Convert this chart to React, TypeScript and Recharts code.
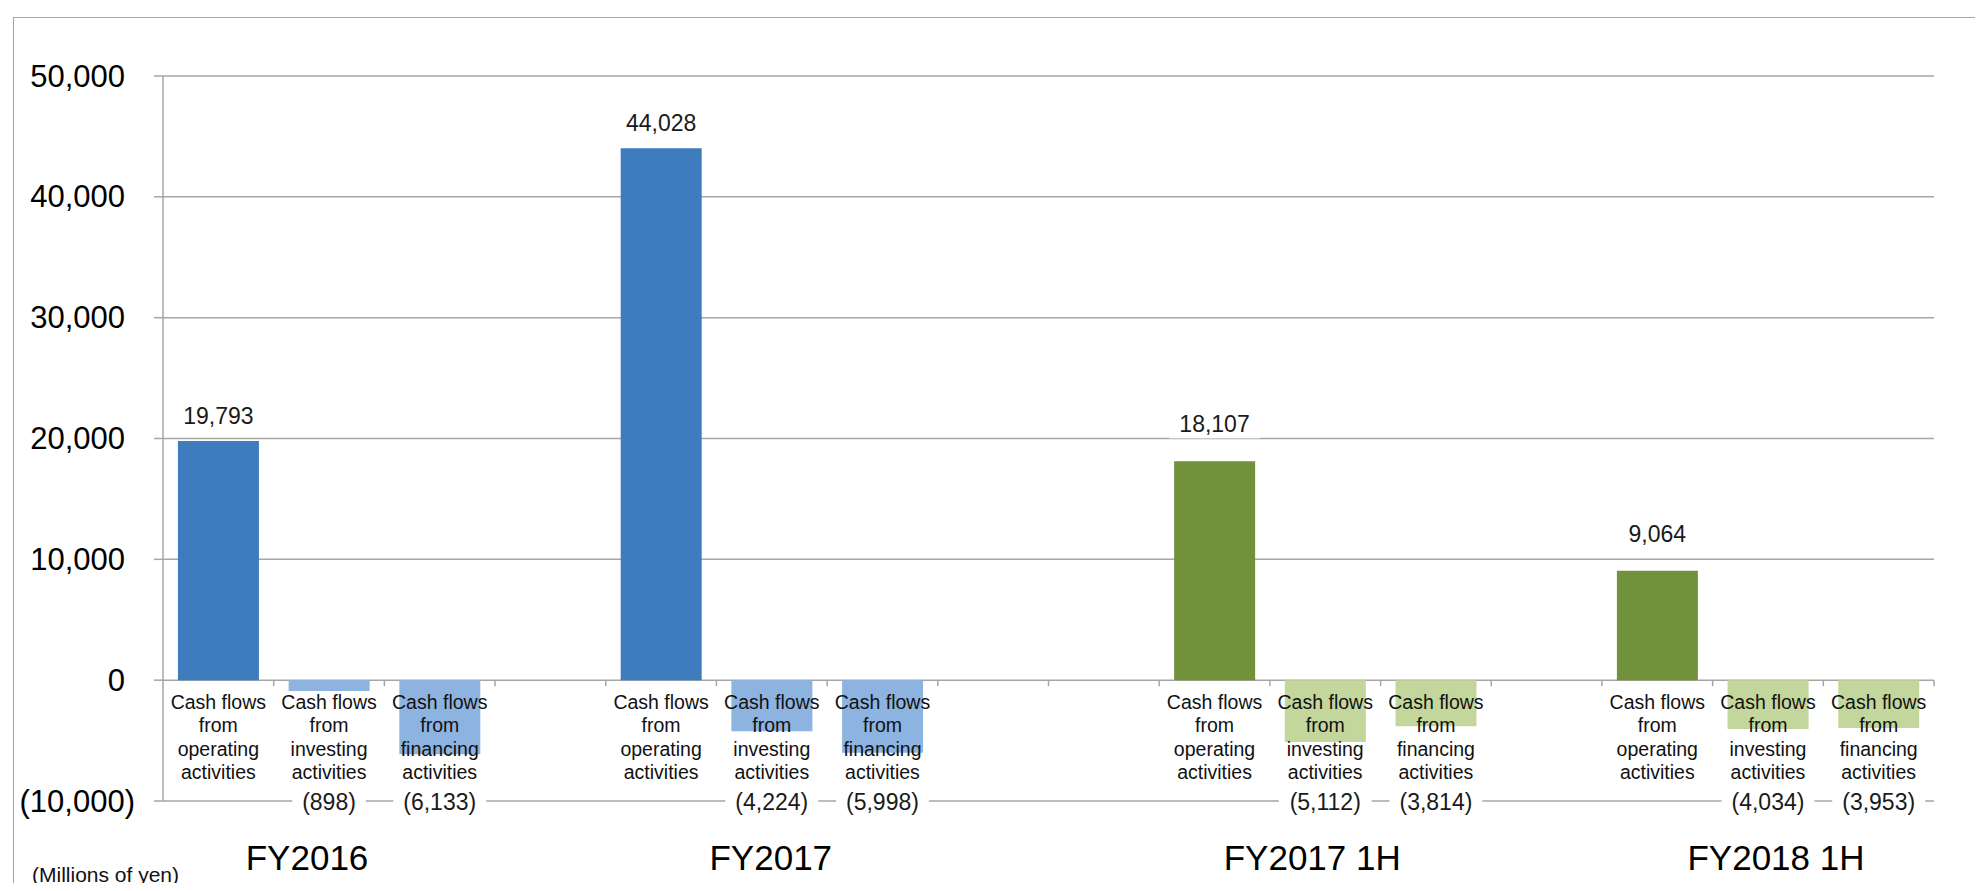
import React from 'react';
import {
  ComposedChart,
  Bar,
  Cell,
  XAxis,
  YAxis,
  CartesianGrid,
  ReferenceDot
} from 'recharts';

const periods = ['FY2016', 'FY2017', 'FY2017 1H', 'FY2018 1H'];
const activityLabels = [
  ['Cash flows', 'from', 'operating', 'activities'],
  ['Cash flows', 'from', 'investing', 'activities'],
  ['Cash flows', 'from', 'financing', 'activities']
];
const operating = [19793, 44028, 18107, 9064];
const investing = [-898, -4224, -5112, -4034];
const financing = [-6133, -5998, -3814, -3953];
const yTicks = [-10000, 0, 10000, 20000, 30000, 40000, 50000];

// layout of the 16 slots on the category axis (empty slots make the gaps)
const SLOT_COUNT = 16;
const periodStart = [0, 4, 9, 13];
const periodLabelDx = [-22, -1, -13, 8];
const valueLabelLift = [25, 25, 37, 37];

const CHART_W = 1967;
const CHART_H = 875;
const MARGIN = { top: 68, right: 41, bottom: 82, left: 0 };
const Y_AXIS_W = 155;
const BAND = (CHART_W - MARGIN.left - MARGIN.right - Y_AXIS_W) / SLOT_COUNT;

const DARK = ['#3f7cbd', '#3f7cbd', '#71913a', '#71913a'];
const LIGHT = ['#8db3e0', '#8db3e0', '#c3d69b', '#c3d69b'];
const GRID = '#a6a6a6';
const FONT = '"Liberation Sans", Arial, sans-serif';

type Row = { slot: string; value?: number; period?: number; kind?: number };

const rows: Row[] = Array.from({ length: SLOT_COUNT }, (_, i) => ({ slot: `s${i}` }));
[operating, investing, financing].forEach((series, k) => {
  series.forEach((v, p) => {
    const r = rows[periodStart[p] + k];
    r.value = v;
    r.period = p;
    r.kind = k;
  });
});
const filled = rows.filter(r => r.value !== undefined);

const fmt = (v: number) =>
  v < 0 ? `(${Math.abs(v).toLocaleString('en-US')})` : v.toLocaleString('en-US');

const textWidth = (s: string, size: number) =>
  [...s].reduce((w, c) => w + (c === ',' ? 0.278 : c === '(' || c === ')' ? 0.333 : 0.556), 0) * size;

const center = (p: any) => {
  const vb = p.viewBox || {};
  return { cx: (vb.x || 0) + (vb.width || 0) / 2, cy: (vb.y || 0) + (vb.height || 0) / 2 };
};

const ValueTag = ({ cx, cy, text }: { cx: number; cy: number; text: string }) => {
  const w = textWidth(text, 23) + 20;
  return (
    <g>
      <rect x={cx - w / 2} y={cy - 14} width={w} height={28} fill="#fff" />
      <text x={cx} y={cy} textAnchor="middle" dominantBaseline="central" fontSize={23} fill="#1a1a1a">
        {text}
      </text>
    </g>
  );
};

const YTick = (props: any) => {
  const { x, y, payload } = props;
  const v = Number(payload.value);
  return (
    <text
      x={x + (v < 0 ? 0 : -10)}
      y={y}
      textAnchor="end"
      dominantBaseline="central"
      fontSize={31}
      fill="#000"
    >
      {fmt(v)}
    </text>
  );
};

const App: React.FC = () => {
  return (
    <div style={{ position: 'relative', width: CHART_W, height: CHART_H, fontFamily: FONT }}>
      <div
        style={{
          position: 'absolute',
          left: 5,
          top: 9,
          width: 1970,
          height: 866,
          borderLeft: `1.5px solid ${GRID}`,
          borderTop: `1.5px solid ${GRID}`,
          boxSizing: 'border-box'
        }}
      />
      <ComposedChart
        width={CHART_W}
        height={CHART_H}
        data={rows}
        margin={MARGIN}
        barCategoryGap="13.5%"
        style={{ fontFamily: FONT }}
      >
        <CartesianGrid vertical={false} stroke={GRID} strokeWidth={1.5} />
        <XAxis dataKey="slot" hide />
        <YAxis
          width={Y_AXIS_W}
          domain={[-10000, 50000]}
          ticks={yTicks}
          interval={0}
          axisLine={{ stroke: GRID, strokeWidth: 1.5 }}
          tickLine={{ stroke: GRID, strokeWidth: 1.5 }}
          tickSize={9}
          tickMargin={19}
          tick={(p: any) => <YTick {...p} />}
        />

        <Bar dataKey="value" isAnimationActive={false}>
          {rows.map((r, i) => (
            <Cell
              key={i}
              fill={r.period === undefined ? 'none' : r.kind === 0 ? DARK[r.period] : LIGHT[r.period]}
            />
          ))}
        </Bar>

        {/* category ticks on the right edge of every slot, hanging below zero */}
        {rows.map(r => (
          <ReferenceDot
            key={`b${r.slot}`}
            x={r.slot}
            y={0}
            ifOverflow="visible"
            shape={(p: any) => (
              <line
                x1={p.cx + BAND / 2}
                y1={p.cy}
                x2={p.cx + BAND / 2}
                y2={p.cy + 6}
                stroke={GRID}
                strokeWidth={1.5}
              />
            )}
          />
        ))}

        {/* activity names under the zero line */}
        {filled.map(r => (
          <ReferenceDot
            key={`c${r.slot}`}
            x={r.slot}
            y={0}
            r={0}
            fillOpacity={0}
            strokeOpacity={0}
            ifOverflow="visible"
            label={(p: any) => {
              const { cx, cy } = center(p);
              return (
                <text textAnchor="middle" fontSize={19.5} fill="#111">
                  {activityLabels[r.kind as number].map((line, i) => (
                    <tspan key={i} x={cx} y={cy + 22 + i * 23.3} dominantBaseline="central">
                      {line}
                    </tspan>
                  ))}
                </text>
              );
            }}
          />
        ))}

        {/* value labels: positive above the bar, negative on the bottom line */}
        {filled.map(r => {
          const v = r.value as number;
          return (
            <ReferenceDot
              key={`v${r.slot}`}
              x={r.slot}
              y={v > 0 ? v : -10000}
              r={0}
              fillOpacity={0}
              strokeOpacity={0}
              ifOverflow="visible"
              label={(p: any) => {
                const { cx, cy } = center(p);
                return (
                  <ValueTag
                    cx={cx}
                    cy={v > 0 ? cy - valueLabelLift[r.period as number] : cy + 1}
                    text={fmt(v)}
                  />
                );
              }}
            />
          );
        })}

        {/* period names, centred under the middle slot of each period */}
        {periods.map((name, p) => (
          <ReferenceDot
            key={`p${p}`}
            x={rows[periodStart[p] + 1].slot}
            y={-10000}
            r={0}
            fillOpacity={0}
            strokeOpacity={0}
            ifOverflow="visible"
            label={(lp: any) => {
              const { cx, cy } = center(lp);
              return (
                <text
                  x={cx + periodLabelDx[p]}
                  y={cy + 56}
                  textAnchor="middle"
                  dominantBaseline="central"
                  fontSize={35}
                  fill="#000"
                >
                  {name}
                </text>
              );
            }}
          />
        ))}
      </ComposedChart>
      <div
        style={{
          position: 'absolute',
          left: 24,
          top: 856,
          fontSize: 21,
          lineHeight: '21px',
          color: '#111',
          whiteSpace: 'nowrap'
        }}
      >
        (Millions of yen)
      </div>
    </div>
  );
};

export default App;
